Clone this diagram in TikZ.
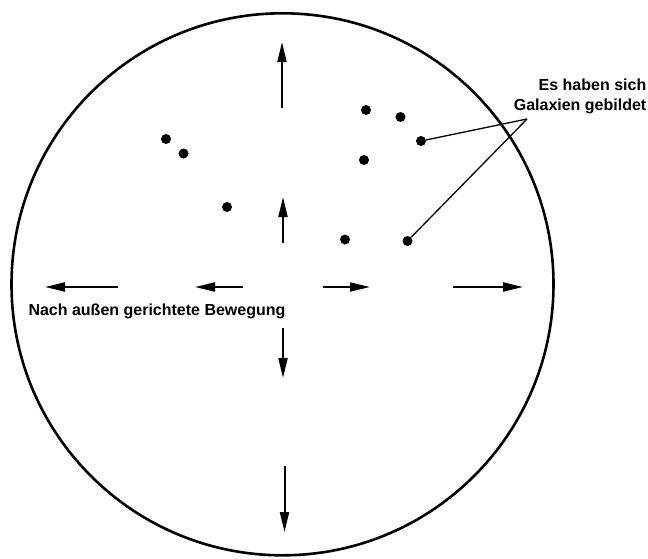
\documentclass[tikz,border=0pt]{standalone}
\usepackage{fontspec}
\setmainfont{Liberation Sans}
\usetikzlibrary{arrows.meta}
\begin{document}
\begin{tikzpicture}[x=1pt,y=-1pt,
  galaxy/.style={circle,fill=black,inner sep=0pt,minimum size=10pt},
  motion/.style={line width=2pt,-{Triangle[length=20pt,width=9pt]}},
  leader/.style={line width=1.3pt},
  label/.style={inner sep=0pt,font=\fontsize{16}{19.5}\selectfont\bfseries}]
  \useasboundingbox (0,0) rectangle (648,558);

  % the expanding universe
  \draw[line width=2.6pt] (282.5,284.3) circle (271);

  % galaxies
  \node[galaxy] (g1) at (166,139) {};
  \node[galaxy] (g2) at (183.5,153.5) {};
  \node[galaxy] (g3) at (227,207) {};
  \node[galaxy] (g4) at (366,110) {};
  \node[galaxy] (g5) at (400.5,117) {};
  \node[galaxy] (g6) at (421,141) {};
  \node[galaxy] (g7) at (364,160) {};
  \node[galaxy] (g8) at (345,239.5) {};
  \node[galaxy] (g9) at (407.5,241) {};

  % labels
  \node[label,anchor=base east] (lab1) at (646.5,90.5) {Es haben sich};
  \node[label,anchor=base east] (lab2) at (646.5,110) {Galaxien gebildet};
  \node[label,anchor=base west] (lab3) at (28.3,315) {Nach außen gerichtete Bewegung};

  % leader lines to the galaxies
  \coordinate (apex) at (527,119);
  \draw[leader] (apex) -- (g6);
  \draw[leader] (apex) -- (g9);

  % outward motion: arrow ends
  \coordinate (u1s) at (282,108);   \coordinate (u1e) at (282,42);
  \coordinate (u2s) at (283,243);   \coordinate (u2e) at (283,197);
  \coordinate (d1s) at (283,328);   \coordinate (d1e) at (283,378);
  \coordinate (d2s) at (284.5,466); \coordinate (d2e) at (284.5,532);
  \coordinate (l1s) at (118,287);   \coordinate (l1e) at (45,287);
  \coordinate (l2s) at (242.5,287); \coordinate (l2e) at (195,287);
  \coordinate (r1s) at (322.5,287); \coordinate (r1e) at (370,287);
  \coordinate (r2s) at (453,287);   \coordinate (r2e) at (523,287);

  \draw[motion] (u1s) -- (u1e);
  \draw[motion] (u2s) -- (u2e);
  \draw[motion] (d1s) -- (d1e);
  \draw[motion] (d2s) -- (d2e);
  \draw[motion] (l1s) -- (l1e);
  \draw[motion] (l2s) -- (l2e);
  \draw[motion] (r1s) -- (r1e);
  \draw[motion] (r2s) -- (r2e);
\end{tikzpicture}
\end{document}
